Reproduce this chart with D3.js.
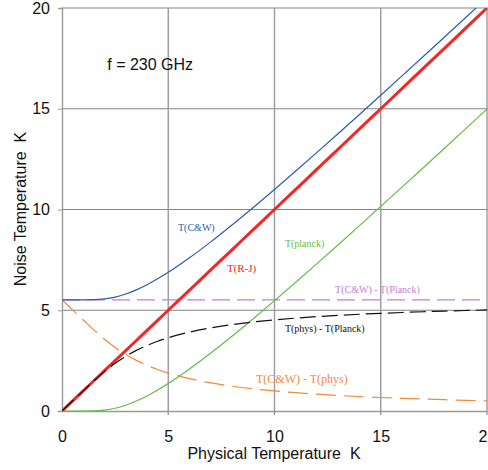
<!DOCTYPE html>
<html>
<head>
<meta charset="utf-8">
<script src="https://cdn.jsdelivr.net/npm/d3@7"></script>
<style>
  body { margin: 0; background: white; }
  text { font-family: "Liberation Sans", Arial, sans-serif; white-space: pre; }
  .lbl { font-family: "Liberation Serif", "Times New Roman", serif; }
</style>
</head>
<body>
<div id="chart"></div>
<script>
// physical temperature (K)
const temps = [0, 0.5, 1, 1.5, 2, 2.5, 3, 3.5, 4, 4.5, 5, 6, 7, 8, 9, 10, 11, 12, 13, 14, 15, 16, 17, 18, 19, 20]
const tRJ = temps.slice()
const tPlanck = [0, 0, 0, 0.007, 0.045, 0.135, 0.286, 0.493, 0.747, 1.040, 1.364, 2.085, 2.875, 3.712, 4.582, 5.477, 6.390, 7.316, 8.253, 9.199, 10.153, 11.112, 12.074, 13.042, 14.012, 14.986]
const tCW = [5.518, 5.518, 5.518, 5.525, 5.563, 5.653, 5.804, 6.011, 6.265, 6.558, 6.882, 7.603, 8.393, 9.230, 10.100, 10.995, 11.908, 12.834, 13.771, 14.717, 15.671, 16.630, 17.592, 18.560, 19.530, 20.504]
const cwMinusPlanck = temps.map(() => 5.518)
const physMinusPlanck = [0, 0.5, 1.0, 1.493, 1.955, 2.365, 2.714, 3.007, 3.253, 3.460, 3.636, 3.915, 4.125, 4.288, 4.418, 4.523, 4.610, 4.684, 4.747, 4.801, 4.847, 4.888, 4.926, 4.958, 4.988, 5.014]
const cwMinusPhys = [5.518, 5.018, 4.518, 4.025, 3.563, 3.153, 2.804, 2.511, 2.265, 2.058, 1.882, 1.603, 1.393, 1.230, 1.100, 0.995, 0.908, 0.834, 0.771, 0.717, 0.671, 0.630, 0.592, 0.560, 0.530, 0.504]
const xTicks = [0, 5, 10, 15, 20]
const yTicks = [0, 5, 10, 15, 20]

const margin = { top: 8, right: 1, bottom: 59, left: 62 }
const width = 488 - margin.left - margin.right,
    height = 470 - margin.top - margin.bottom;

const svg = d3.select("#chart")
    .append("svg")
    .attr("width", 488)
    .attr("height", 470)
    .append("g")
    .attr("transform", "translate(" + margin.left + "," + margin.top + ")")

const x = d3.scaleLinear().domain([0, 20]).range([0, 425])
const y = d3.scaleLinear().domain([0, 20]).range([403, 0])

svg.append("clipPath").attr("id", "clip")
    .append("rect").attr("x", 0).attr("y", 0).attr("width", 426).attr("height", 403)

// grid
svg.selectAll(".hgrid").data(yTicks.filter(d => d > 0)).enter().append("line")
    .attr("x1", 0).attr("x2", 430)
    .attr("y1", d => y(d)).attr("y2", d => y(d))
    .attr("stroke", "#858585").attr("stroke-width", 1.2)
svg.selectAll(".vgrid").data(xTicks.filter(d => d > 0)).enter().append("line")
    .attr("x1", d => x(d)).attr("x2", d => x(d))
    .attr("y1", 0).attr("y2", 407)
    .attr("stroke", "#9a9a9a").attr("stroke-width", 1.4)

// axes
const yAxis = d3.axisLeft(y).tickValues(yTicks).tickSize(4).tickPadding(8)
svg.append("g").call(yAxis)
    .call(g => g.select(".domain").attr("stroke", "#999").attr("stroke-width", 1.4))
    .call(g => g.selectAll(".tick line").attr("stroke", "#999"))
    .call(g => g.selectAll(".tick text").attr("font-size", 16).attr("fill", "#111")
        .attr("font-family", "Liberation Sans, Arial, sans-serif"))

const xAxis = d3.axisBottom(x).tickValues(xTicks).tickSize(0).tickPadding(20)
svg.append("g").attr("transform", "translate(0," + height + ")").call(xAxis)
    .call(g => g.select(".domain").attr("stroke", "#999").attr("stroke-width", 1.4))
    .call(g => g.selectAll(".tick text").attr("font-size", 16).attr("fill", "#111")
        .attr("font-family", "Liberation Sans, Arial, sans-serif"))

// series (black drawn last so it shows inside the red near the origin)
const series = [
    { vals: cwMinusPlanck, color: "#c27fd0", w: 1.3, dash: "18,7" },
    { vals: cwMinusPhys, color: "#f08a3a", w: 1.2, dash: "20,8" },
    { vals: tPlanck, color: "#62bb45", w: 1.2, dash: null },
    { vals: tCW, color: "#2a5cae", w: 1.2, dash: null },
    { vals: tRJ, color: "#f02828", w: 3, dash: null },
    { vals: physMinusPlanck, color: "#111", w: 1.2, dash: "16,6" }
]

const line = d3.line()
    .x((d, i) => x(temps[i]))
    .y(d => y(d))
    .curve(d3.curveMonotoneX)

svg.append("g").attr("clip-path", "url(#clip)")
    .selectAll("path").data(series).enter().append("path")
    .attr("d", d => line(d.vals))
    .attr("fill", "none")
    .attr("stroke", d => d.color)
    .attr("stroke-width", d => d.w)
    .attr("stroke-dasharray", d => d.dash)

// curve labels
const labels = [
    { t: "T(C&W)", x: 5.46, y: 8.93, c: "#2a5cae", s: 10 },
    { t: "T(R-J)", x: 7.76, y: 6.9, c: "#f02828", s: 11 },
    { t: "T(planck)", x: 10.49, y: 8.14, c: "#62bb45", s: 10 },
    { t: "T(C&W) - T(Planck)", x: 12.85, y: 5.86, c: "#c27fd0", s: 10 },
    { t: "T(phys) - T(Planck)", x: 10.49, y: 3.92, c: "#111", s: 10 },
    { t: "T(C&W) - T(phys)", x: 9.13, y: 1.39, c: "#f08a3a", s: 12 }
]
svg.selectAll(".lbl").data(labels).enter().append("text")
    .attr("class", "lbl")
    .attr("x", d => x(d.x)).attr("y", d => y(d.y))
    .attr("fill", d => d.c).attr("font-size", d => d.s)
    .text(d => d.t)

svg.append("text")
    .attr("x", x(2.13)).attr("y", y(16.93))
    .attr("font-size", 16).attr("fill", "#111")
    .text("f = 230 GHz")

// axis titles
svg.append("text")
    .attr("x", 212).attr("y", height + 48)
    .attr("text-anchor", "middle").attr("font-size", 16).attr("fill", "#111")
    .text("Physical Temperature  K")

svg.append("text")
    .attr("transform", "translate(-36," + 201 + ") rotate(-90)")
    .attr("text-anchor", "middle").attr("font-size", 16).attr("fill", "#111")
    .text("Noise Temperature  K")
</script>
</body>
</html>
